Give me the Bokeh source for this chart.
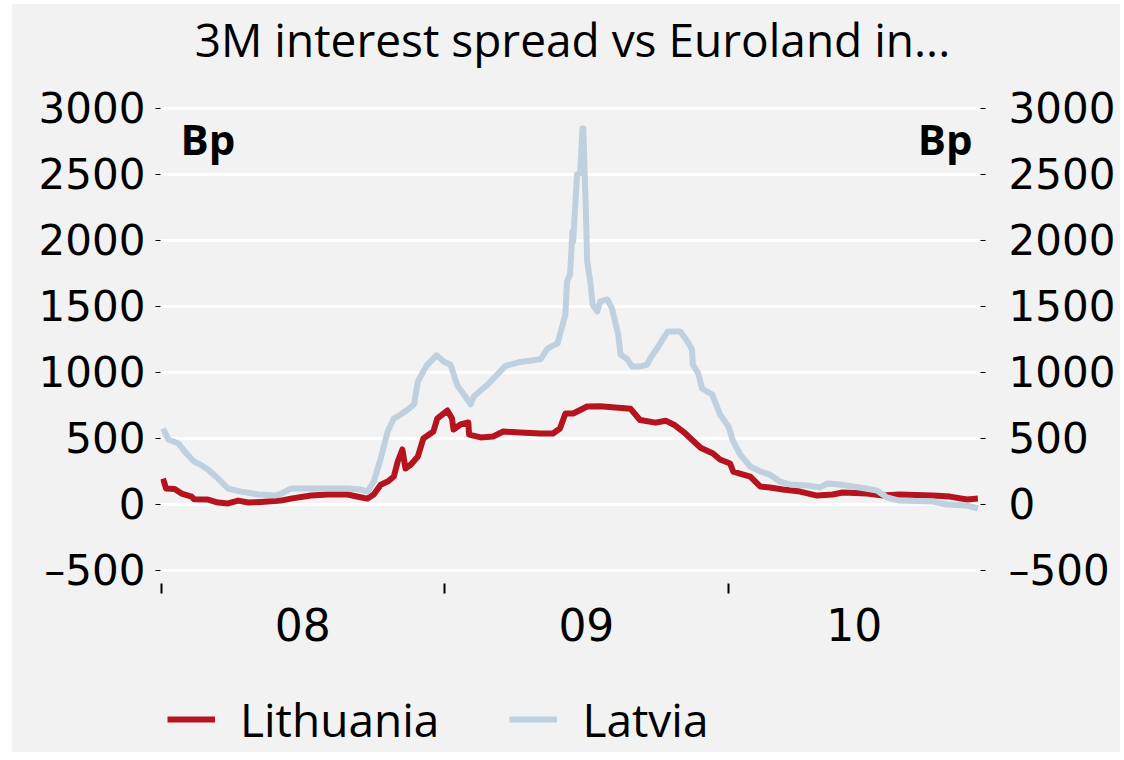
import datetime as dt
from bokeh.plotting import figure
from bokeh.layouts import column
from bokeh.models import (LinearAxis, FixedTicker, Range1d, Legend, LegendItem,
                          Label, ColumnDataSource)
from bokeh.embed import file_html
from bokeh.resources import INLINE

# ---------------- data ----------------
TITLE = "3M interest spread vs Euroland in..."
UNIT = "Bp"
SERIES_NAMES = ["Lithuania", "Latvia"]
YEAR_TICKS = [2008, 2009, 2010]
YEAR_LABELS = ["08", "09", "10"]
Y_TICKS = [-500, 0, 500, 1000, 1500, 2000, 2500, 3000]
Y_LABELS = ["\u2013500", "0", "500", "1000", "1500", "2000", "2500", "3000"]

lithuania_dates = [
    "2008-01-03", "2008-01-07", "2008-01-18", "2008-01-27", "2008-02-09", "2008-02-12",
    "2008-03-01", "2008-03-14", "2008-03-27", "2008-04-09", "2008-04-22", "2008-05-09",
    "2008-06-03", "2008-06-16", "2008-07-12", "2008-08-03", "2008-08-28", "2008-09-14",
    "2008-09-23", "2008-10-01", "2008-10-10", "2008-10-19", "2008-10-27", "2008-11-01",
    "2008-11-07", "2008-11-11", "2008-11-18", "2008-11-27", "2008-12-04", "2008-12-17",
    "2008-12-22", "2008-12-30", "2009-01-04", "2009-01-10", "2009-01-12", "2009-01-21",
    "2009-01-31", "2009-02-01", "2009-02-16", "2009-03-04", "2009-03-17", "2009-04-08",
    "2009-05-04", "2009-05-20", "2009-05-29", "2009-06-05", "2009-06-15", "2009-07-03",
    "2009-07-20", "2009-08-08", "2009-08-28", "2009-09-09", "2009-09-29", "2009-10-12",
    "2009-10-24", "2009-11-06", "2009-11-26", "2009-12-12", "2009-12-21", "2010-01-03",
    "2010-01-07", "2010-01-20", "2010-01-29", "2010-02-11", "2010-02-23", "2010-03-12",
    "2010-04-03", "2010-04-25", "2010-05-15", "2010-05-28", "2010-06-28", "2010-07-19",
    "2010-08-09", "2010-09-21", "2010-10-13", "2010-11-04", "2010-11-18",
]
lithuania_values = [
    197, 121, 118, 83, 60, 40,
    38, 15, 8, 30, 15, 20,
    30, 45, 68, 76, 76, 55,
    45, 76, 150, 174, 212, 326,
    417, 273, 303, 364, 500, 553,
    651, 689, 712, 651, 568, 606,
    621, 530, 508, 515, 553, 545,
    538, 538, 576, 689, 689, 742,
    745, 735, 725, 640, 620, 635,
    600, 540, 430, 386, 341, 311,
    250, 227, 212, 136, 129, 114,
    98, 68, 76, 91, 83, 68,
    76, 68, 60, 38, 45,
]

latvia_dates = [
    "2008-01-03", "2008-01-10", "2008-01-23", "2008-01-31", "2008-02-12", "2008-02-21",
    "2008-03-01", "2008-03-14", "2008-03-27", "2008-04-13", "2008-05-05", "2008-05-26",
    "2008-06-03", "2008-06-16", "2008-07-08", "2008-08-03", "2008-08-28", "2008-09-14",
    "2008-09-23", "2008-10-01", "2008-10-10", "2008-10-19", "2008-10-27", "2008-11-05",
    "2008-11-14", "2008-11-22", "2008-11-27", "2008-12-08", "2008-12-21", "2008-12-31",
    "2009-01-08", "2009-01-17", "2009-01-27", "2009-02-03", "2009-02-07", "2009-02-25",
    "2009-03-07", "2009-03-20", "2009-04-08", "2009-05-04", "2009-05-13", "2009-05-26",
    "2009-05-29", "2009-06-05", "2009-06-07", "2009-06-11", "2009-06-14", "2009-06-15",
    "2009-06-20", "2009-06-24", "2009-06-27", "2009-06-28", "2009-07-01", "2009-07-03",
    "2009-07-07", "2009-07-10", "2009-07-16", "2009-07-20", "2009-07-29", "2009-08-04",
    "2009-08-08", "2009-08-12", "2009-08-15", "2009-08-24", "2009-08-30", "2009-09-09",
    "2009-09-18", "2009-09-22", "2009-10-01", "2009-10-09", "2009-10-15", "2009-10-31",
    "2009-11-09", "2009-11-15", "2009-11-16", "2009-11-23", "2009-11-28", "2009-12-11",
    "2009-12-21", "2010-01-01", "2010-01-07", "2010-01-16", "2010-01-29", "2010-02-11",
    "2010-02-23", "2010-03-08", "2010-03-21", "2010-04-12", "2010-04-29", "2010-05-08",
    "2010-05-24", "2010-06-19", "2010-07-11", "2010-07-24", "2010-08-09", "2010-09-21",
    "2010-10-09", "2010-11-04", "2010-11-18",
]
latvia_values = [
    576, 492, 462, 401, 326, 300,
    265, 197, 121, 98, 76, 68,
    80, 121, 121, 121, 121, 114,
    98, 174, 348, 553, 651, 682,
    720, 758, 932, 1050, 1130, 1080,
    1060, 900, 820, 758, 818, 909,
    970, 1050, 1080, 1100, 1182, 1220,
    1288, 1439, 1689, 1742, 2068, 1992,
    2500, 2508, 2848, 2848, 2295, 1841,
    1689, 1515, 1462, 1538, 1553, 1485,
    1386, 1288, 1136, 1098, 1045, 1045,
    1060, 1106, 1182, 1258, 1311, 1311,
    1235, 1174, 1060, 992, 879, 833,
    682, 591, 477, 379, 288, 250,
    227, 174, 152, 144, 129, 159,
    152, 129, 106, 53, 30, 23,
    0, -8, -30,
]

# ---------------- helpers ----------------
def decimal_year(s):
    d = dt.date.fromisoformat(s)
    start = dt.date(d.year, 1, 1)
    ndays = (dt.date(d.year + 1, 1, 1) - start).days
    return d.year + ((d - start).days + 0.5) / ndays

lt_src = ColumnDataSource(dict(x=[decimal_year(s) for s in lithuania_dates], y=lithuania_values))
lv_src = ColumnDataSource(dict(x=[decimal_year(s) for s in latvia_dates], y=latvia_values))

X_START = YEAR_TICKS[0] - 0.002
X_END = 2010.89
label_pos = [y + 0.5 for y in YEAR_TICKS[:-1]] + [(YEAR_TICKS[-1] + X_END) / 2]

BG = "#f2f2f2"
RED = "#b5141e"
BLUE = "#bfd0de"
NUM_FONT = "DejaVu Sans"
TXT_FONT = "Open Sans"
LW = 6
W = 1108


def strip(height):
    f = figure(width=W, height=height, output_backend="svg", toolbar_location=None,
               x_range=Range1d(0, 1), y_range=Range1d(0, 1),
               min_border=0, x_axis_location=None, y_axis_location=None)
    f.background_fill_color = BG
    f.border_fill_color = BG
    f.outline_line_color = None
    f.grid.visible = False
    return f


# ---------------- title strip ----------------
pt = strip(66)
pt.add_layout(Label(x=412, y=1, x_units="screen", y_units="screen", text=TITLE,
                    text_font=TXT_FONT, text_font_size="46px", text_align="center",
                    text_baseline="bottom", text_color="black"))

# ---------------- main chart ----------------
p = figure(width=W, height=593, output_backend="svg", toolbar_location=None,
           x_range=Range1d(X_START, X_END), y_range=Range1d(-598, 3090),
           min_border_left=148, min_border_right=140, min_border_top=26,
           min_border_bottom=80, x_axis_location=None, y_axis_location=None)
p.background_fill_color = BG
p.border_fill_color = BG
p.outline_line_color = None

# x axis: minor ticks at year boundaries, labels at year centres
xax = LinearAxis(ticker=FixedTicker(ticks=label_pos, minor_ticks=YEAR_TICKS))
xax.major_label_overrides = {pos: lab for pos, lab in zip(label_pos, YEAR_LABELS)}
xax.axis_line_color = None
xax.major_tick_line_color = None
xax.major_tick_out = 0
xax.major_tick_in = 0
xax.minor_tick_line_color = "black"
xax.minor_tick_line_width = 2
xax.minor_tick_out = 10
xax.minor_tick_in = 0
xax.major_label_standoff = 14
xax.major_label_text_font = NUM_FONT
xax.major_label_text_font_size = "44px"
xax.major_label_text_color = "black"
p.add_layout(xax, "below")

for side, standoff in (("left", 10), ("right", 23)):
    ax = LinearAxis(ticker=FixedTicker(ticks=Y_TICKS))
    ax.major_label_overrides = {t: lab for t, lab in zip(Y_TICKS, Y_LABELS)}
    ax.axis_line_color = None
    ax.major_tick_line_color = "black"
    ax.major_tick_line_width = 1
    ax.major_tick_out = 5
    ax.major_tick_in = 0
    ax.minor_tick_line_color = None
    ax.major_label_standoff = standoff
    ax.major_label_text_font = NUM_FONT
    ax.major_label_text_font_size = "42px"
    ax.major_label_text_color = "black"
    p.add_layout(ax, side)

p.xgrid.visible = False
p.ygrid.ticker = FixedTicker(ticks=Y_TICKS)
p.ygrid.grid_line_color = "white"
p.ygrid.grid_line_width = 3

r_lt = p.line("x", "y", source=lt_src, line_color=RED, line_width=LW, line_join="round")
r_lv = p.line("x", "y", source=lv_src, line_color=BLUE, line_width=LW, line_join="round")

for xo, align in ((20, "left"), (812, "right")):
    p.add_layout(Label(x=xo, y=474, x_units="screen", y_units="screen", text=UNIT,
                       text_font=TXT_FONT, text_font_style="bold", text_font_size="42px",
                       text_align=align, text_baseline="top", text_color="black"))

# ---------------- legend strip ----------------
# same series, drawn against a range that keeps them out of view: only the legend shows
pl = strip(89)
g_lt = pl.line("x", "y", source=lt_src, line_color=RED, line_width=LW)
g_lv = pl.line("x", "y", source=lv_src, line_color=BLUE, line_width=LW)
legend = Legend(items=[LegendItem(label=SERIES_NAMES[0], renderers=[g_lt]),
                       LegendItem(label=SERIES_NAMES[1], renderers=[g_lv])],
                orientation="horizontal", location=(7, 2),
                label_text_font=TXT_FONT, label_text_font_size="46px",
                label_text_color="black", glyph_width=48, glyph_height=20,
                label_standoff=25, spacing=70, padding=0, margin=0,
                background_fill_alpha=0, border_line_color=None)
pl.add_layout(legend, "center")

layout = column(pt, p, pl, spacing=0, margin=(4, 0, 0, 12),
                styles={"background-color": BG})
open("out.html", "w").write(file_html(layout, INLINE))
